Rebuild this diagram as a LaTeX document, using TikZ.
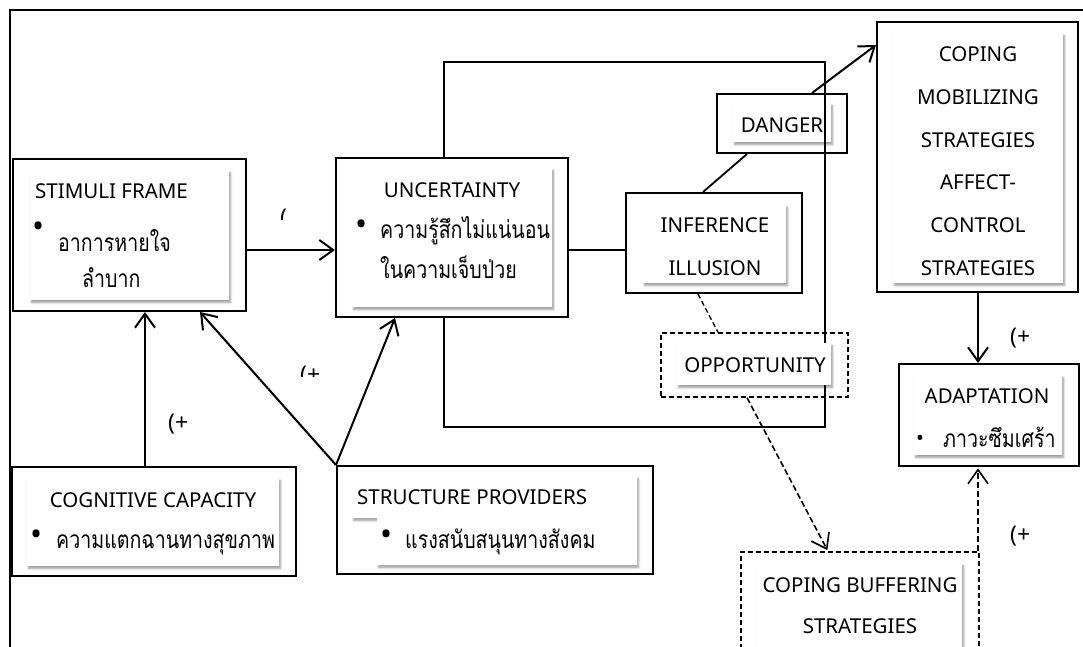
\documentclass[tikz,border=0pt]{standalone}
\usepackage{fontspec}
\setmainfont{Noto Sans}
\newfontfamily\thaifont[Script=Thai,FakeStretch=0.8]{Loma}
\usetikzlibrary{arrows.meta,shadows,shadows.blur}
\begin{document}
\begin{tikzpicture}[x=1pt,y=-1pt,
  obox/.style={draw,line width=2pt,inner sep=0pt},
  dbox/.style={draw,line width=1.4pt,dash pattern=on 5pt off 3pt,inner sep=0pt},
  ibox/.style={fill=white,inner sep=0pt,blur shadow={shadow xshift=1.5pt,shadow yshift=-2.5pt,shadow blur steps=6,shadow opacity=40}},
  lt/.style={font=\fontsize{20.5}{22}\selectfont,inner sep=0pt,anchor=base west},
  lc/.style={font=\fontsize{20.5}{22}\selectfont,inner sep=0pt,anchor=base},
  bul/.style={font=\fontsize{32}{32}\selectfont,inner sep=0pt,anchor=center},
  th/.style={font=\thaifont\fontsize{24.5}{26}\selectfont,inner sep=0pt,anchor=base west},
  lab/.style={font=\fontsize{23}{23}\selectfont,inner sep=0pt,anchor=base west},
  arr/.style={line width=2pt,-{Straight Barb[length=14pt,width=20pt,line width=2pt]}},
  darr/.style={line width=1.6pt,dash pattern=on 6pt off 3pt,-{Straight Barb[length=14pt,width=20pt,line width=1.6pt,sep]}},
  ln/.style={line width=1.8pt},
  dln/.style={line width=1.3pt,dash pattern=on 5pt off 3pt}]
\useasboundingbox (0,0) rectangle (1083,646);
% frame
\draw[line width=2pt] (10,650) -- (10,10) -- (1090,10);

% DANGER box (loop line passes over it)
\node[obox,minimum width=130pt,minimum height=59pt] (dan) at (782,123.5) {};
\node[ibox,minimum width=98pt,minimum height=39pt] (danin) at (782,122.5) {};
\node[lc] (tdan) at (782,132) {DANGER};

% loop around uncertainty
\coordinate (lpL) at (444,62);
\coordinate (lpTR) at (825,62);
\coordinate (lpBL) at (444,427);

% boxes
\node[obox,minimum width=233pt,minimum height=152pt] (stim) at (129.5,235) {};
\node[ibox,minimum width=199pt,minimum height=130pt] (stimin) at (129.5,235) {};
\node[lt] (t1) at (35,198) {STIMULI FRAME};
\node[bul] (t2) at (39,230) {•};
\node[th] (t3) at (58,251) {อาการหายใจ};
\node[th] (t4) at (82,287) {ลำบาก};

\node[obox,minimum width=232pt,minimum height=159pt] (unc) at (452,237.5) {};
\draw[ln] (unc.north -| lpL) -- (lpL) -- (lpTR) |- (lpBL) -- (unc.south -| lpL);
\node[ibox,minimum width=200pt,minimum height=139pt] (uncin) at (452,237.5) {};
\node[lc] (t5) at (452,197) {UNCERTAINTY};
\node[bul] (t6) at (362,228) {•};
\node[th] (t7) at (380,238) {ความรู้สึกไม่แน่นอน};
\node[th] (t8) at (380,278) {ในความเจ็บป่วย};

\node[obox,minimum width=176pt,minimum height=100pt] (inf) at (714,243) {};
\node[ibox,minimum width=143pt,minimum height=78pt] (infin) at (714.5,244) {};
\node[lc] (t9) at (715,232) {INFERENCE};
\node[lc] (t10) at (715,275) {ILLUSION};

\node[obox,minimum width=201pt,minimum height=270pt] (cmob) at (977.5,157) {};
\node[ibox,minimum width=170pt,minimum height=250pt] (cmobin) at (978,158) {};
\node[lc] (c1) at (978,61) {COPING};
\node[lc] (c2) at (978,104) {MOBILIZING};
\node[lc] (c3) at (978,147) {STRATEGIES};
\node[lc] (c4) at (978,189) {AFFECT-};
\node[lc] (c5) at (978,232) {CONTROL};
\node[lc] (c6) at (978,275) {STRATEGIES};

\node[obox,minimum width=180pt,minimum height=102pt] (adapt) at (989,415) {};
\node[ibox,minimum width=148pt,minimum height=80pt] (adaptin) at (988,415) {};
\node[lc] (a1) at (987,403) {ADAPTATION};
\node[bul,font=\fontsize{21}{21}\selectfont] (a2) at (920,440) {•};
\node[th] (a3) at (943,447) {ภาวะซึมเศร้า};

\node[dbox,minimum width=187pt,minimum height=64pt] (opp) at (754.5,365) {};
\node[ibox,minimum width=154pt,minimum height=42pt] (oppin) at (754,364) {};
\node[lc] (o1) at (755,372) {OPPORTUNITY};

\node[dbox,minimum width=238pt,minimum height=128pt] (cbuf) at (860,616) {};
\node[ibox,minimum width=205pt,minimum height=107pt] (cbufin) at (859.5,616.5) {};
\node[lc] (b1) at (860,592) {COPING BUFFERING};
\node[lc] (b2) at (860,633) {STRATEGIES};

\node[obox,minimum width=284pt,minimum height=109pt] (cog) at (154,521.5) {};
\node[ibox,minimum width=252pt,minimum height=88pt] (cogin) at (153,522) {};
\node[lc] (g1) at (153,507) {COGNITIVE CAPACITY};
\node[bul] (g2) at (37,538) {•};
\node[th] (g3) at (56,548) {ความแตกฉานทางสุขภาพ};

\node[obox,minimum width=316pt,minimum height=108pt] (str) at (495,520) {};
\path[fill=white,blur shadow={shadow xshift=1.5pt,shadow yshift=-2.5pt,shadow blur steps=6,shadow opacity=40}]
  (352,476) -- (637,476) -- (637,565) -- (377,565) -- (377,518) -- (352,518) -- cycle;
\node[lt] (s1) at (357,504) {STRUCTURE PROVIDERS};
\node[bul] (s2) at (387,538) {•};
\node[th] (s3) at (405,548) {แรงสนับสนุนทางสังคม};

% connectors
\coordinate (r1) at (0,250);
\draw[arr] (stim.east |- r1) -- (unc.west |- r1);
\draw[ln] (unc.east |- r1) -- (inf.west |- r1);
\draw[ln] ([xshift=-11pt]inf.north) -- ([xshift=-35pt]dan.south);
\coordinate (r2) at (0,45);
\draw[arr] ([xshift=30pt]dan.north) -- (cmob.west |- r2);
\draw[dln] ([xshift=-16pt]inf.south) -- ([xshift=-36.5pt]opp.north);
\draw[darr] ([xshift=-7.5pt]opp.south) -- ([xshift=-32pt]cbuf.north);
\coordinate (v4) at (978,0);
\draw[darr] (cbuf.north -| v4) -- (adapt.south -| v4);
\draw[arr] (cmob.south -| v4) -- (adapt.north -| v4);
\coordinate (v1) at (145,0);
\draw[arr] (cog.north -| v1) -- (stim.south -| v1);
\coordinate (v2) at (200,0);
\draw[arr] (str.north west) -- (stim.south -| v2);
\coordinate (v3) at (395,0);
\draw[arr] (str.north west) -- (unc.south -| v3);

% labels
\node[lab] (p1) at (168,430) {(+};
\node[lab] (p2) at (1010,344) {(+};
\node[lab] (p3) at (1010,542) {(+};
\begin{scope}
  \clip (290,350) rectangle (340,376);
  \node[lab] (p4) at (300,382) {(+};
\end{scope}
\begin{scope}
  \clip (270,200) rectangle (300,219);
  \node[lab] (p5) at (280,225) {(};
\end{scope}
\end{tikzpicture}
\end{document}
